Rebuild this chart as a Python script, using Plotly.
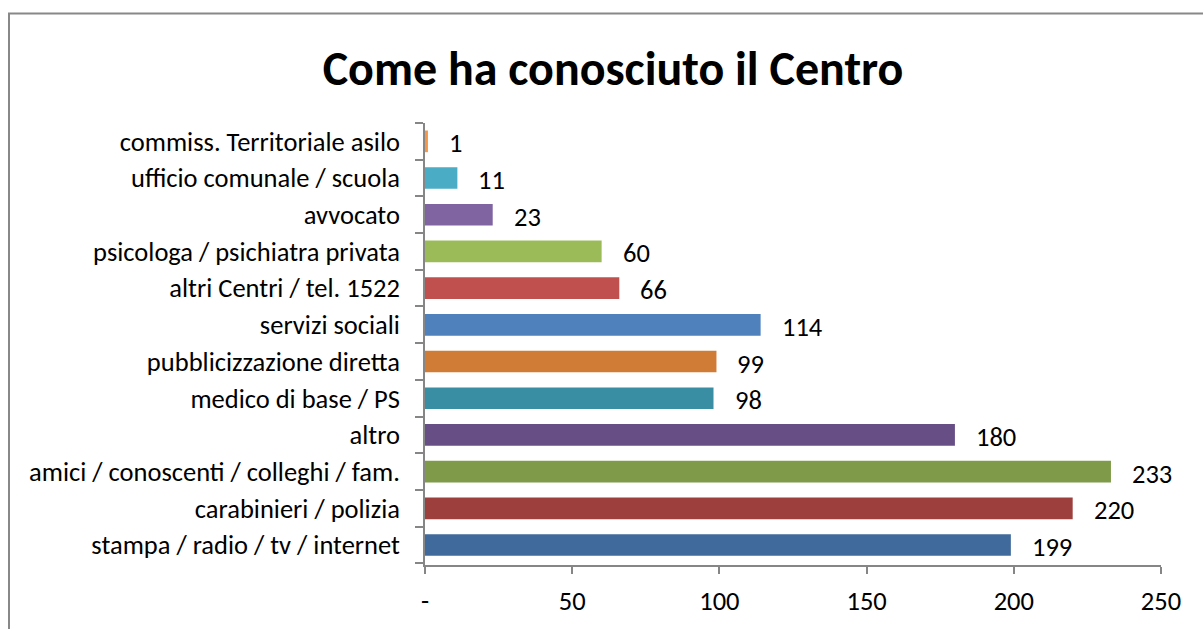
import plotly.graph_objects as go

categories = [
    "stampa / radio / tv / internet",
    "carabinieri / polizia",
    "amici / conoscenti / colleghi / fam.",
    "altro",
    "medico di base / PS",
    "pubblicizzazione diretta",
    "servizi sociali",
    "altri Centri / tel. 1522",
    "psicologa / psichiatra privata",
    "avvocato",
    "ufficio comunale / scuola",
    "commiss. Territoriale asilo",
]
values = [199, 220, 233, 180, 98, 99, 114, 66, 60, 23, 11, 1]
bar_colors = [
    "#3F6A9B", "#9D403D", "#7F9A48", "#674F85", "#3A8EA3", "#D07C37",
    "#4F81BD", "#C0504D", "#9BBB59", "#8064A2", "#4BACC6", "#F79646",
]
x_tickvals = [0, 50, 100, 150, 200, 250]
x_ticktext = ["-", "50", "100", "150", "200", "250"]
title_text = "Come ha conosciuto il Centro"

FONT = "Carlito, Calibri, Lato, sans-serif"
FS = 26.5

fig = go.Figure(go.Bar(
    y=categories, x=values, orientation="h",
    marker=dict(color=bar_colors, line=dict(width=0)),
    width=0.59, hoverinfo="skip",
))

for c, v in zip(categories, values):
    fig.add_annotation(x=v, y=c, text=str(v), showarrow=False,
                       xanchor="left", xshift=19, yshift=-2,
                       font=dict(family=FONT, size=FS, color="#000000"))

W, H = 1203, 629
L, R, T, B = 425, 42, 123, 58
pw, ph = W - L - R, H - T - B

fig.update_layout(
    width=W, height=H,
    margin=dict(l=L, r=R, t=T, b=B),
    paper_bgcolor="white", plot_bgcolor="white",
    showlegend=False,
    title=dict(text="<b>" + title_text + "</b>", x=613 / W, xanchor="center",
               y=1 - 68 / H, yanchor="middle",
               font=dict(family=FONT, size=48, color="#000000")),
    font=dict(family=FONT, size=FS, color="#000000"),
    xaxis=dict(range=[0, 250], tickvals=x_tickvals, ticktext=x_ticktext,
               showgrid=False, zeroline=False, showline=True, linecolor="#868686",
               linewidth=1.5, ticks="outside", ticklen=7, tickcolor="#868686",
               tickwidth=1.5, ticklabelstandoff=4,
               tickfont=dict(family=FONT, size=FS, color="#000000")),
    yaxis=dict(type="category", categoryorder="array", categoryarray=categories,
               showgrid=False, zeroline=False, showline=True, linecolor="#868686",
               linewidth=1.5, ticks="outside", ticklen=8, tickcolor="#868686",
               tickwidth=1.5, tickson="boundaries", ticklabelstandoff=18,
               tickfont=dict(family=FONT, size=FS, color="#000000")),
    shapes=[dict(type="rect", xref="paper", yref="paper",
                 x0=(9 - L) / pw, x1=(1230 - L) / pw,
                 y0=-(B + 40) / ph, y1=1 + (T - 12) / ph,
                 line=dict(color="#888888", width=2), fillcolor="rgba(0,0,0,0)", layer="below")],
)

fig.write_html(
    "out.html",
    config={"displayModeBar": False},
    post_script="document.body.style.margin='0';document.body.style.overflow='hidden';",
)
